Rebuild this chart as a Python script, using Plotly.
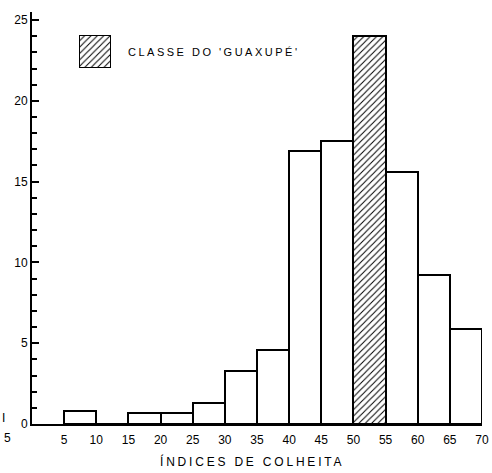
import plotly.graph_objects as go

# Data: harvest index classes (bin left edges) and frequency (%)
bin_left = [5, 10, 15, 20, 25, 30, 35, 40, 45, 50, 55, 60, 65]
freq = [0.8, 0.0, 0.7, 0.7, 1.3, 3.3, 4.6, 16.9, 17.5, 24.0, 15.6, 9.2, 5.9]
highlight_class = 50
bin_width = 5
x_ticks = [5, 10, 15, 20, 25, 30, 35, 40, 45, 50, 55, 60, 65, 70]
y_ticks = [0, 5, 10, 15, 20, 25]
legend_label = "CLASSE DO 'GUAXUPÉ'"
x_title = "ÍNDICES DE COLHEITA"

FONT = "Liberation Sans"
W, H = 492, 473
ML, MR, MT, MB = 32, 10, 12, 49
pw = W - ML - MR
ph = H - MT - MB


def px(xp):
    return (xp - ML) / pw


def py(yp):
    return (H - MB - yp) / ph


centers = [b + bin_width / 2 for b in bin_left]
shapes_pat = ["/" if b == highlight_class else "" for b in bin_left]
hatch = dict(fgcolor="black", bgcolor="white", size=4.5, solidity=0.22)

fig = go.Figure()
fig.add_trace(go.Bar(
    x=centers, y=freq, width=bin_width,
    marker=dict(color="white", line=dict(color="black", width=2),
                pattern=dict(shape=shapes_pat, **hatch)),
    showlegend=False, hoverinfo="skip",
))

# legend swatch on its own small axis
fig.add_trace(go.Bar(
    x=[0.5], y=[1], width=1, xaxis="x2", yaxis="y2",
    marker=dict(color="white", line=dict(color="black", width=2),
                pattern=dict(shape="/", **hatch)),
    showlegend=False, hoverinfo="skip",
))

fig.update_layout(
    template="none",
    width=W, height=H, autosize=False,
    margin=dict(l=ML, r=MR, t=MT, b=MB, pad=0),
    paper_bgcolor="white", plot_bgcolor="white",
    font=dict(family=FONT, color="black", size=12),
    bargap=0,
    xaxis=dict(range=[0, 70], tickvals=x_ticks, ticks="", showgrid=False,
               zeroline=False, showline=True, linecolor="black", linewidth=2,
               tickfont=dict(size=12), ticklabelstandoff=4, domain=[0, 1],
               automargin=False),
    yaxis=dict(range=[0, 25.5], tickvals=y_ticks, ticks="inside", ticklen=7,
               tickwidth=1.5, tickcolor="black", showgrid=False, zeroline=False,
               showline=True, linecolor="black", linewidth=2,
               tickfont=dict(size=12), domain=[0, 1], automargin=False,
               minor=dict(dtick=1, ticks="inside", ticklen=5, tickwidth=1.5,
                          tickcolor="black", showgrid=False)),
    xaxis2=dict(domain=[px(79), px(111)], range=[0, 1], visible=False,
                anchor="y2", fixedrange=True, automargin=False),
    yaxis2=dict(domain=[py(68), py(35)], range=[0, 1], visible=False,
                anchor="x2", fixedrange=True, automargin=False),
    annotations=[
        dict(text=f'<span style="letter-spacing:2.5px">{legend_label}</span>',
             x=px(126), y=py(52), xref="paper", yref="paper", showarrow=False,
             xanchor="left", yanchor="middle", font=dict(size=11)),
        dict(text=f'<span style="letter-spacing:2.8px">{x_title}</span>',
             x=px(252), y=py(461), xref="paper", yref="paper", showarrow=False,
             xanchor="center", yanchor="middle", font=dict(size=12)),
        dict(text="5", x=px(7), y=py(438), xref="paper", yref="paper",
             showarrow=False, xanchor="center", yanchor="middle", font=dict(size=12)),
        dict(text="I", x=px(3), y=py(418), xref="paper", yref="paper",
             showarrow=False, xanchor="center", yanchor="middle", font=dict(size=12)),
    ],
)

fig.write_html(
    "out.html",
    config={"displayModeBar": False, "responsive": False},
    post_script="document.body.style.margin='0';document.body.style.overflow='hidden';",
)
